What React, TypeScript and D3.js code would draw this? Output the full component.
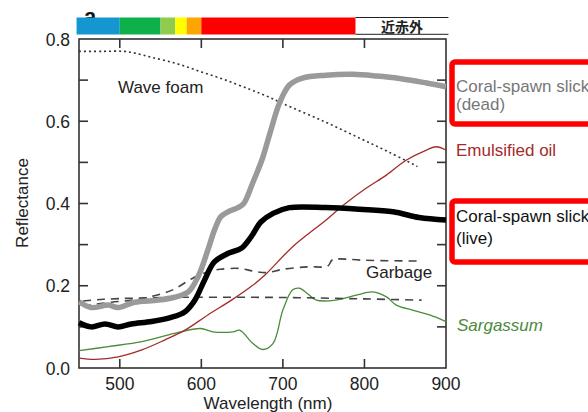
import React from "react";
import * as d3 from "d3";

const W = 588, H = 412;
const M = { left: 79, right: 446, top: 39, bottom: 368 };

const xTicks = [500, 600, 700, 800, 900];
const xLabelTicks = [500, 600, 700, 800, 900];
const yLabelTicks = [0.0, 0.2, 0.4, 0.6, 0.8];
const yMinorTicks = [0.1, 0.2, 0.3, 0.4, 0.5, 0.6, 0.7];

const waveFoamX = [450, 480, 505, 520, 540, 570, 600, 630, 660, 678, 700, 750, 795, 830, 865];
const waveFoamY = [0.77, 0.77, 0.77, 0.765, 0.755, 0.74, 0.72, 0.70, 0.677, 0.663, 0.643, 0.60, 0.558, 0.525, 0.49];

const deadX = [450, 465, 486, 498, 518, 547, 567, 584, 596, 608, 617, 624, 633, 645, 652, 663, 675, 684, 696, 708, 724, 753, 786, 815, 843, 876, 900];
const deadY = [0.161, 0.147, 0.153, 0.147, 0.16, 0.165, 0.172, 0.185, 0.222, 0.287, 0.34, 0.368, 0.38, 0.39, 0.40, 0.45, 0.51, 0.57, 0.645, 0.688, 0.705, 0.712, 0.714, 0.71, 0.704, 0.693, 0.684];

const liveX = [450, 465, 482, 498, 514, 539, 563, 580, 592, 604, 616, 633, 649, 661, 673, 688, 708, 753, 794, 835, 867, 900];
const liveY = [0.11, 0.10, 0.107, 0.10, 0.107, 0.113, 0.123, 0.137, 0.165, 0.214, 0.258, 0.279, 0.291, 0.319, 0.355, 0.376, 0.39, 0.39, 0.386, 0.38, 0.366, 0.36];

const oilX = [450, 470, 498, 527, 555, 580, 608, 637, 661, 678, 712, 753, 774, 802, 827, 851, 876, 888, 900];
const oilY = [0.024, 0.021, 0.027, 0.044, 0.068, 0.092, 0.129, 0.165, 0.198, 0.226, 0.295, 0.36, 0.396, 0.437, 0.469, 0.505, 0.53, 0.538, 0.53];

const sargX = [450, 486, 527, 567, 599, 614, 639, 647, 663, 675, 688, 700, 712, 720, 730, 741, 765, 790, 810, 827, 839, 859, 880, 900];
const sargY = [0.042, 0.052, 0.064, 0.084, 0.096, 0.088, 0.088, 0.092, 0.06, 0.045, 0.06, 0.141, 0.19, 0.194, 0.181, 0.165, 0.165, 0.177, 0.185, 0.173, 0.153, 0.141, 0.129, 0.113];

const garbHiX = [455, 470, 490, 515, 537, 565, 590, 610, 623, 647, 665, 680, 700, 730, 755, 760, 766, 800, 867];
const garbHiY = [0.15, 0.155, 0.16, 0.165, 0.173, 0.19, 0.219, 0.235, 0.24, 0.242, 0.235, 0.232, 0.24, 0.246, 0.248, 0.262, 0.265, 0.262, 0.26];

const garbLoX = [455, 480, 520, 580, 650, 720, 800, 870];
const garbLoY = [0.163, 0.167, 0.17, 0.172, 0.172, 0.171, 0.168, 0.165];

const bandStart = [447, 500, 550, 568, 582, 600];
const bandEnd = [500, 550, 568, 582, 600, 789];
const bandColor = ["#1596d0", "#0db04b", "#8fcc4e", "#ffff00", "#ffa500", "#ff0000"];

const font = "'Liberation Sans', Arial, sans-serif";

export default function App() {
  const x = d3.scaleLinear().domain([450, 900]).range([M.left, M.right]);
  const y = d3.scaleLinear().domain([0, 0.8]).range([M.bottom, M.top]);

  const mk = (xs: number[], ys: number[]) =>
    d3.line<number>().x((_, i) => x(xs[i])).y((d) => y(d)).curve(d3.curveCatmullRom.alpha(0.5))(ys) || "";

  const tickLen = 9;

  return (
    <svg width={W} height={H} style={{ position: "absolute", left: 0, top: 0, background: "#fff" }} fontFamily={font}>
      <rect x={0} y={0} width={W} height={H} fill="#fff" />
      {/* panel letter partially hidden */}
      <text x={84} y={24} fontSize={22} fontWeight="bold" fill="#111">a</text>
      {/* colour bar */}
      {bandStart.map((s, i) => (
        <rect key={i} x={x(s)} y={17.5} width={x(bandEnd[i]) - x(s)} height={17} fill={bandColor[i]} />
      ))}
      <line x1={x(789)} x2={x(903)} y1={17.5} y2={17.5} stroke="#222" strokeWidth={1} />
      <line x1={x(789)} x2={x(903)} y1={34.3} y2={34.3} stroke="#222" strokeWidth={1} />
      <text x={(x(789) + x(903)) / 2} y={32} textAnchor="middle" fontSize={14} fontWeight="bold" fill="#222"
        fontFamily="'Noto Sans CJK JP', 'Noto Sans CJK SC', sans-serif">近赤外</text>

      {/* frame */}
      <rect x={M.left} y={M.top} width={M.right - M.left} height={M.bottom - M.top} fill="none" stroke="#333" strokeWidth={1.6} />
      {yMinorTicks.map((t) => (
        <g key={"yt" + t}>
          <line x1={M.left} x2={M.left + tickLen} y1={y(t)} y2={y(t)} stroke="#333" strokeWidth={1.6} />
          <line x1={M.right} x2={M.right - tickLen} y1={y(t)} y2={y(t)} stroke="#333" strokeWidth={1.6} />
        </g>
      ))}
      {xTicks.slice(0, 4).map((t) => (
        <g key={"xt" + t}>
          <line x1={x(t)} x2={x(t)} y1={M.bottom} y2={M.bottom - tickLen} stroke="#333" strokeWidth={1.6} />
          <line x1={x(t)} x2={x(t)} y1={M.top} y2={M.top + tickLen} stroke="#333" strokeWidth={1.6} />
        </g>
      ))}
      {yLabelTicks.map((t) => (
        <text key={"yl" + t} x={70} y={y(t) + 6.5} textAnchor="end" fontSize={17.5} fill="#222">{t.toFixed(1)}</text>
      ))}
      {xLabelTicks.map((t) => (
        <text key={"xl" + t} x={x(t)} y={390} textAnchor="middle" fontSize={17.5} fill="#222">{t}</text>
      ))}
      <text x={268} y={409} textAnchor="middle" fontSize={17} fill="#222">Wavelength (nm)</text>
      <text transform="translate(28,203) rotate(-90)" textAnchor="middle" fontSize={17} fill="#222">Reflectance</text>

      {/* curves */}
      <path d={mk(sargX, sargY)} fill="none" stroke="#4c8a3c" strokeWidth={1.3} />
      <path d={mk(oilX, oilY)} fill="none" stroke="#a52a2a" strokeWidth={1.3} />
      <path d={mk(garbLoX, garbLoY)} fill="none" stroke="#444" strokeWidth={1.6} strokeDasharray="8,6" />
      <path d={mk(garbHiX, garbHiY)} fill="none" stroke="#444" strokeWidth={1.6} strokeDasharray="8,6" />
      <path d={mk(waveFoamX, waveFoamY)} fill="none" stroke="#333" strokeWidth={1.6} strokeDasharray="2,3" />
      <path d={mk(deadX, deadY)} fill="none" stroke="#9a9a9a" strokeWidth={5.5} strokeLinejoin="round" />
      <path d={mk(liveX, liveY)} fill="none" stroke="#000" strokeWidth={5.5} strokeLinejoin="round" />

      {/* in-plot labels */}
      <text x={118} y={93} fontSize={17} fill="#222">Wave foam</text>
      <text x={366} y={278} fontSize={17} fill="#222">Garbage</text>

      {/* right labels */}
      <rect x={452} y={62} width={200} height={62} rx={3} fill="none" stroke="#ff0000" strokeWidth={5.5} />
      <text x={456} y={92} fontSize={17} fill="#777">Coral-spawn slick</text>
      <text x={456} y={110} fontSize={17} fill="#777">(dead)</text>
      <text x={456} y={156} fontSize={17} fill="#a52a2a">Emulsified oil</text>
      <rect x={452} y={201} width={200} height={61} rx={3} fill="none" stroke="#ff0000" strokeWidth={5.5} />
      <text x={456} y={222} fontSize={17} fill="#111">Coral-spawn slick</text>
      <text x={456} y={244} fontSize={17} fill="#111">(live)</text>
      <text x={457} y={331} fontSize={17} fill="#4c8a3c" fontStyle="italic">Sargassum</text>
    </svg>
  );
}
